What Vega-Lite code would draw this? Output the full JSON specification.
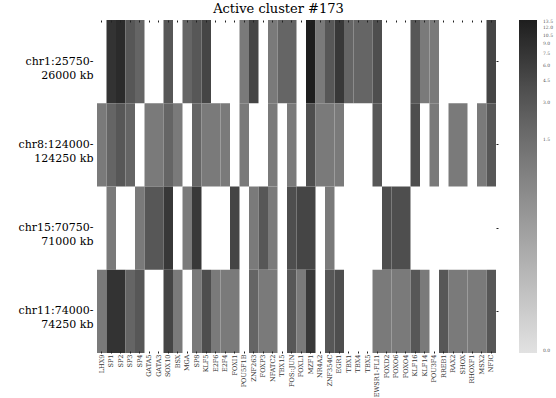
{
  "$schema": "https://vega.github.io/schema/vega-lite/v6.json",
  "width": 399,
  "height": 333,
  "autosize": {"type": "none"},
  "padding": {"left": 97, "top": 20, "right": 60, "bottom": 45},
  "background": "white",
  "config": {"view": {"stroke": null}},
  "title": {"text": "Active cluster #173", "font": "DejaVu Serif", "fontSize": 13, "fontWeight": "normal", "color": "#000", "offset": 4, "anchor": "middle", "dx": -18},
  "data": {"values": [
    {"region": "chr1:25750-26000 kb", "tf": "LHX9", "v": 0},
    {"region": "chr1:25750-26000 kb", "tf": "SP1", "v": 8},
    {"region": "chr1:25750-26000 kb", "tf": "SP2", "v": 10},
    {"region": "chr1:25750-26000 kb", "tf": "SP3", "v": 3},
    {"region": "chr1:25750-26000 kb", "tf": "SP4", "v": 2},
    {"region": "chr1:25750-26000 kb", "tf": "GATA5", "v": 0},
    {"region": "chr1:25750-26000 kb", "tf": "GATA3", "v": 0},
    {"region": "chr1:25750-26000 kb", "tf": "SOX10", "v": 3},
    {"region": "chr1:25750-26000 kb", "tf": "BSX", "v": 0},
    {"region": "chr1:25750-26000 kb", "tf": "MGA", "v": 2},
    {"region": "chr1:25750-26000 kb", "tf": "SP8", "v": 3},
    {"region": "chr1:25750-26000 kb", "tf": "KLF5", "v": 5},
    {"region": "chr1:25750-26000 kb", "tf": "E2F6", "v": 0},
    {"region": "chr1:25750-26000 kb", "tf": "E2F4", "v": 0},
    {"region": "chr1:25750-26000 kb", "tf": "FOXI1", "v": 0},
    {"region": "chr1:25750-26000 kb", "tf": "POU5F1B", "v": 1},
    {"region": "chr1:25750-26000 kb", "tf": "ZNF263", "v": 5},
    {"region": "chr1:25750-26000 kb", "tf": "FOXP3", "v": 0},
    {"region": "chr1:25750-26000 kb", "tf": "NFATC2", "v": 1},
    {"region": "chr1:25750-26000 kb", "tf": "TBX15", "v": 2},
    {"region": "chr1:25750-26000 kb", "tf": "FOS::JUN", "v": 2},
    {"region": "chr1:25750-26000 kb", "tf": "FOXL1", "v": 0},
    {"region": "chr1:25750-26000 kb", "tf": "MZF1", "v": 14},
    {"region": "chr1:25750-26000 kb", "tf": "NR4A2", "v": 1},
    {"region": "chr1:25750-26000 kb", "tf": "ZNF354C", "v": 3},
    {"region": "chr1:25750-26000 kb", "tf": "EGR1", "v": 7},
    {"region": "chr1:25750-26000 kb", "tf": "TBX1", "v": 2},
    {"region": "chr1:25750-26000 kb", "tf": "TBX4", "v": 2},
    {"region": "chr1:25750-26000 kb", "tf": "TBX5", "v": 2},
    {"region": "chr1:25750-26000 kb", "tf": "EWSR1-FLI1", "v": 4},
    {"region": "chr1:25750-26000 kb", "tf": "FOXD2", "v": 0},
    {"region": "chr1:25750-26000 kb", "tf": "FOXO6", "v": 0},
    {"region": "chr1:25750-26000 kb", "tf": "FOXO4", "v": 0},
    {"region": "chr1:25750-26000 kb", "tf": "KLF16", "v": 3},
    {"region": "chr1:25750-26000 kb", "tf": "KLF14", "v": 1},
    {"region": "chr1:25750-26000 kb", "tf": "POU3F4", "v": 1},
    {"region": "chr1:25750-26000 kb", "tf": "RREB1", "v": 0},
    {"region": "chr1:25750-26000 kb", "tf": "RAX2", "v": 0},
    {"region": "chr1:25750-26000 kb", "tf": "SHOX", "v": 0},
    {"region": "chr1:25750-26000 kb", "tf": "RHOXF1", "v": 0},
    {"region": "chr1:25750-26000 kb", "tf": "MSX2", "v": 0},
    {"region": "chr1:25750-26000 kb", "tf": "NFIC", "v": 5},

    {"region": "chr8:124000-124250 kb", "tf": "LHX9", "v": 1},
    {"region": "chr8:124000-124250 kb", "tf": "SP1", "v": 2},
    {"region": "chr8:124000-124250 kb", "tf": "SP2", "v": 3},
    {"region": "chr8:124000-124250 kb", "tf": "SP3", "v": 2},
    {"region": "chr8:124000-124250 kb", "tf": "SP4", "v": 0},
    {"region": "chr8:124000-124250 kb", "tf": "GATA5", "v": 1},
    {"region": "chr8:124000-124250 kb", "tf": "GATA3", "v": 1},
    {"region": "chr8:124000-124250 kb", "tf": "SOX10", "v": 2},
    {"region": "chr8:124000-124250 kb", "tf": "BSX", "v": 1},
    {"region": "chr8:124000-124250 kb", "tf": "MGA", "v": 0},
    {"region": "chr8:124000-124250 kb", "tf": "SP8", "v": 2},
    {"region": "chr8:124000-124250 kb", "tf": "KLF5", "v": 1},
    {"region": "chr8:124000-124250 kb", "tf": "E2F6", "v": 1},
    {"region": "chr8:124000-124250 kb", "tf": "E2F4", "v": 1},
    {"region": "chr8:124000-124250 kb", "tf": "FOXI1", "v": 0},
    {"region": "chr8:124000-124250 kb", "tf": "POU5F1B", "v": 1},
    {"region": "chr8:124000-124250 kb", "tf": "ZNF263", "v": 0},
    {"region": "chr8:124000-124250 kb", "tf": "FOXP3", "v": 0},
    {"region": "chr8:124000-124250 kb", "tf": "NFATC2", "v": 1},
    {"region": "chr8:124000-124250 kb", "tf": "TBX15", "v": 0},
    {"region": "chr8:124000-124250 kb", "tf": "FOS::JUN", "v": 1},
    {"region": "chr8:124000-124250 kb", "tf": "FOXL1", "v": 0},
    {"region": "chr8:124000-124250 kb", "tf": "MZF1", "v": 4},
    {"region": "chr8:124000-124250 kb", "tf": "NR4A2", "v": 1},
    {"region": "chr8:124000-124250 kb", "tf": "ZNF354C", "v": 1},
    {"region": "chr8:124000-124250 kb", "tf": "EGR1", "v": 1},
    {"region": "chr8:124000-124250 kb", "tf": "TBX1", "v": 0},
    {"region": "chr8:124000-124250 kb", "tf": "TBX4", "v": 0},
    {"region": "chr8:124000-124250 kb", "tf": "TBX5", "v": 0},
    {"region": "chr8:124000-124250 kb", "tf": "EWSR1-FLI1", "v": 3},
    {"region": "chr8:124000-124250 kb", "tf": "FOXD2", "v": 0},
    {"region": "chr8:124000-124250 kb", "tf": "FOXO6", "v": 0},
    {"region": "chr8:124000-124250 kb", "tf": "FOXO4", "v": 0},
    {"region": "chr8:124000-124250 kb", "tf": "KLF16", "v": 4},
    {"region": "chr8:124000-124250 kb", "tf": "KLF14", "v": 0},
    {"region": "chr8:124000-124250 kb", "tf": "POU3F4", "v": 1},
    {"region": "chr8:124000-124250 kb", "tf": "RREB1", "v": 0},
    {"region": "chr8:124000-124250 kb", "tf": "RAX2", "v": 1},
    {"region": "chr8:124000-124250 kb", "tf": "SHOX", "v": 1},
    {"region": "chr8:124000-124250 kb", "tf": "RHOXF1", "v": 0},
    {"region": "chr8:124000-124250 kb", "tf": "MSX2", "v": 1},
    {"region": "chr8:124000-124250 kb", "tf": "NFIC", "v": 3},

    {"region": "chr15:70750-71000 kb", "tf": "LHX9", "v": 0},
    {"region": "chr15:70750-71000 kb", "tf": "SP1", "v": 1},
    {"region": "chr15:70750-71000 kb", "tf": "SP2", "v": 0},
    {"region": "chr15:70750-71000 kb", "tf": "SP3", "v": 0},
    {"region": "chr15:70750-71000 kb", "tf": "SP4", "v": 1},
    {"region": "chr15:70750-71000 kb", "tf": "GATA5", "v": 3},
    {"region": "chr15:70750-71000 kb", "tf": "GATA3", "v": 3},
    {"region": "chr15:70750-71000 kb", "tf": "SOX10", "v": 7},
    {"region": "chr15:70750-71000 kb", "tf": "BSX", "v": 0},
    {"region": "chr15:70750-71000 kb", "tf": "MGA", "v": 1},
    {"region": "chr15:70750-71000 kb", "tf": "SP8", "v": 7},
    {"region": "chr15:70750-71000 kb", "tf": "KLF5", "v": 0},
    {"region": "chr15:70750-71000 kb", "tf": "E2F6", "v": 0},
    {"region": "chr15:70750-71000 kb", "tf": "E2F4", "v": 0},
    {"region": "chr15:70750-71000 kb", "tf": "FOXI1", "v": 5},
    {"region": "chr15:70750-71000 kb", "tf": "POU5F1B", "v": 0},
    {"region": "chr15:70750-71000 kb", "tf": "ZNF263", "v": 1},
    {"region": "chr15:70750-71000 kb", "tf": "FOXP3", "v": 3},
    {"region": "chr15:70750-71000 kb", "tf": "NFATC2", "v": 1},
    {"region": "chr15:70750-71000 kb", "tf": "TBX15", "v": 0},
    {"region": "chr15:70750-71000 kb", "tf": "FOS::JUN", "v": 4},
    {"region": "chr15:70750-71000 kb", "tf": "FOXL1", "v": 5},
    {"region": "chr15:70750-71000 kb", "tf": "MZF1", "v": 5},
    {"region": "chr15:70750-71000 kb", "tf": "NR4A2", "v": 0},
    {"region": "chr15:70750-71000 kb", "tf": "ZNF354C", "v": 1},
    {"region": "chr15:70750-71000 kb", "tf": "EGR1", "v": 0},
    {"region": "chr15:70750-71000 kb", "tf": "TBX1", "v": 0},
    {"region": "chr15:70750-71000 kb", "tf": "TBX4", "v": 0},
    {"region": "chr15:70750-71000 kb", "tf": "TBX5", "v": 0},
    {"region": "chr15:70750-71000 kb", "tf": "EWSR1-FLI1", "v": 0},
    {"region": "chr15:70750-71000 kb", "tf": "FOXD2", "v": 4},
    {"region": "chr15:70750-71000 kb", "tf": "FOXO6", "v": 4},
    {"region": "chr15:70750-71000 kb", "tf": "FOXO4", "v": 4},
    {"region": "chr15:70750-71000 kb", "tf": "KLF16", "v": 0},
    {"region": "chr15:70750-71000 kb", "tf": "KLF14", "v": 0},
    {"region": "chr15:70750-71000 kb", "tf": "POU3F4", "v": 0},
    {"region": "chr15:70750-71000 kb", "tf": "RREB1", "v": 0},
    {"region": "chr15:70750-71000 kb", "tf": "RAX2", "v": 0},
    {"region": "chr15:70750-71000 kb", "tf": "SHOX", "v": 0},
    {"region": "chr15:70750-71000 kb", "tf": "RHOXF1", "v": 0},
    {"region": "chr15:70750-71000 kb", "tf": "MSX2", "v": 0},
    {"region": "chr15:70750-71000 kb", "tf": "NFIC", "v": 0},

    {"region": "chr11:74000-74250 kb", "tf": "LHX9", "v": 1},
    {"region": "chr11:74000-74250 kb", "tf": "SP1", "v": 8},
    {"region": "chr11:74000-74250 kb", "tf": "SP2", "v": 8},
    {"region": "chr11:74000-74250 kb", "tf": "SP3", "v": 2},
    {"region": "chr11:74000-74250 kb", "tf": "SP4", "v": 3},
    {"region": "chr11:74000-74250 kb", "tf": "GATA5", "v": 0},
    {"region": "chr11:74000-74250 kb", "tf": "GATA3", "v": 0},
    {"region": "chr11:74000-74250 kb", "tf": "SOX10", "v": 5},
    {"region": "chr11:74000-74250 kb", "tf": "BSX", "v": 1},
    {"region": "chr11:74000-74250 kb", "tf": "MGA", "v": 0},
    {"region": "chr11:74000-74250 kb", "tf": "SP8", "v": 1},
    {"region": "chr11:74000-74250 kb", "tf": "KLF5", "v": 4},
    {"region": "chr11:74000-74250 kb", "tf": "E2F6", "v": 1},
    {"region": "chr11:74000-74250 kb", "tf": "E2F4", "v": 1},
    {"region": "chr11:74000-74250 kb", "tf": "FOXI1", "v": 1},
    {"region": "chr11:74000-74250 kb", "tf": "POU5F1B", "v": 0},
    {"region": "chr11:74000-74250 kb", "tf": "ZNF263", "v": 2},
    {"region": "chr11:74000-74250 kb", "tf": "FOXP3", "v": 1},
    {"region": "chr11:74000-74250 kb", "tf": "NFATC2", "v": 1},
    {"region": "chr11:74000-74250 kb", "tf": "TBX15", "v": 0},
    {"region": "chr11:74000-74250 kb", "tf": "FOS::JUN", "v": 3},
    {"region": "chr11:74000-74250 kb", "tf": "FOXL1", "v": 1},
    {"region": "chr11:74000-74250 kb", "tf": "MZF1", "v": 7},
    {"region": "chr11:74000-74250 kb", "tf": "NR4A2", "v": 0},
    {"region": "chr11:74000-74250 kb", "tf": "ZNF354C", "v": 3},
    {"region": "chr11:74000-74250 kb", "tf": "EGR1", "v": 4},
    {"region": "chr11:74000-74250 kb", "tf": "TBX1", "v": 0},
    {"region": "chr11:74000-74250 kb", "tf": "TBX4", "v": 0},
    {"region": "chr11:74000-74250 kb", "tf": "TBX5", "v": 0},
    {"region": "chr11:74000-74250 kb", "tf": "EWSR1-FLI1", "v": 1},
    {"region": "chr11:74000-74250 kb", "tf": "FOXD2", "v": 1},
    {"region": "chr11:74000-74250 kb", "tf": "FOXO6", "v": 1},
    {"region": "chr11:74000-74250 kb", "tf": "FOXO4", "v": 1},
    {"region": "chr11:74000-74250 kb", "tf": "KLF16", "v": 3},
    {"region": "chr11:74000-74250 kb", "tf": "KLF14", "v": 1},
    {"region": "chr11:74000-74250 kb", "tf": "POU3F4", "v": 0},
    {"region": "chr11:74000-74250 kb", "tf": "RREB1", "v": 3},
    {"region": "chr11:74000-74250 kb", "tf": "RAX2", "v": 1},
    {"region": "chr11:74000-74250 kb", "tf": "SHOX", "v": 1},
    {"region": "chr11:74000-74250 kb", "tf": "RHOXF1", "v": 1},
    {"region": "chr11:74000-74250 kb", "tf": "MSX2", "v": 1},
    {"region": "chr11:74000-74250 kb", "tf": "NFIC", "v": 3}
  ]},
  "transform": [{"filter": "datum.v > 0"}],
  "layer": [
    {
      "mark": {"type": "rect"},
      "encoding": {
        "x": {
          "field": "tf", "type": "nominal",
          "scale": {"domain": ["LHX9","SP1","SP2","SP3","SP4","GATA5","GATA3","SOX10","BSX","MGA","SP8","KLF5","E2F6","E2F4","FOXI1","POU5F1B","ZNF263","FOXP3","NFATC2","TBX15","FOS::JUN","FOXL1","MZF1","NR4A2","ZNF354C","EGR1","TBX1","TBX4","TBX5","EWSR1-FLI1","FOXD2","FOXO6","FOXO4","KLF16","KLF14","POU3F4","RREB1","RAX2","SHOX","RHOXF1","MSX2","NFIC"], "paddingInner": 0, "paddingOuter": 0},
          "axis": {"orient": "bottom", "title": null, "labelAngle": 270, "labelFont": "DejaVu Serif", "labelFontSize": 6.5, "labelColor": "#333", "labelPadding": 3, "tickSize": -2, "tickColor": "#222", "tickWidth": 1, "domain": false, "labelOverlap": false}
        },
        "y": {
          "field": "region", "type": "nominal",
          "scale": {"domain": ["chr1:25750-26000 kb","chr8:124000-124250 kb","chr15:70750-71000 kb","chr11:74000-74250 kb"], "paddingInner": 0, "paddingOuter": 0},
          "axis": {"orient": "left", "title": null, "ticks": false, "domain": false, "labelFont": "DejaVu Serif", "labelFontSize": 11, "labelColor": "#000", "labelPadding": 4, "labelLimit": 200, "labelLineHeight": 14,
            "labelExpr": "[slice(datum.label, 0, indexof(datum.label, '-') + 1), slice(datum.label, indexof(datum.label, '-') + 1)]"}
        },
        "color": {
          "field": "v", "type": "quantitative",
          "scale": {"type": "symlog", "constant": 0.03, "domain": [0, 14], "scheme": "greys"},
          "legend": {"orient": "none", "legendX": 422, "legendY": 0, "direction": "vertical", "title": null, "gradientLength": 333, "gradientThickness": 18, "gradientStrokeWidth": 0, "values": [0, 1.5, 3, 4.5, 6, 7.5, 9, 10.5, 12, 13.5], "format": ".1f", "labelFont": "DejaVu Serif", "labelFontSize": 4.5, "labelColor": "#555", "labelOffset": 6, "labelOverlap": false, "labelFlush": false}
        }
      }
    },
    {
      "mark": {"type": "rect", "opacity": 0},
      "encoding": {
        "x": {"field": "tf", "type": "nominal", "axis": {"orient": "top", "title": null, "labels": false, "domain": false, "tickSize": -2, "tickColor": "#222", "tickWidth": 1}},
        "y": {"field": "region", "type": "nominal", "axis": {"orient": "right", "title": null, "labels": false, "domain": false, "tickSize": 2, "tickColor": "#222", "tickWidth": 1}}
      }
    }
  ],
  "resolve": {"axis": {"x": "independent", "y": "independent"}}
}
